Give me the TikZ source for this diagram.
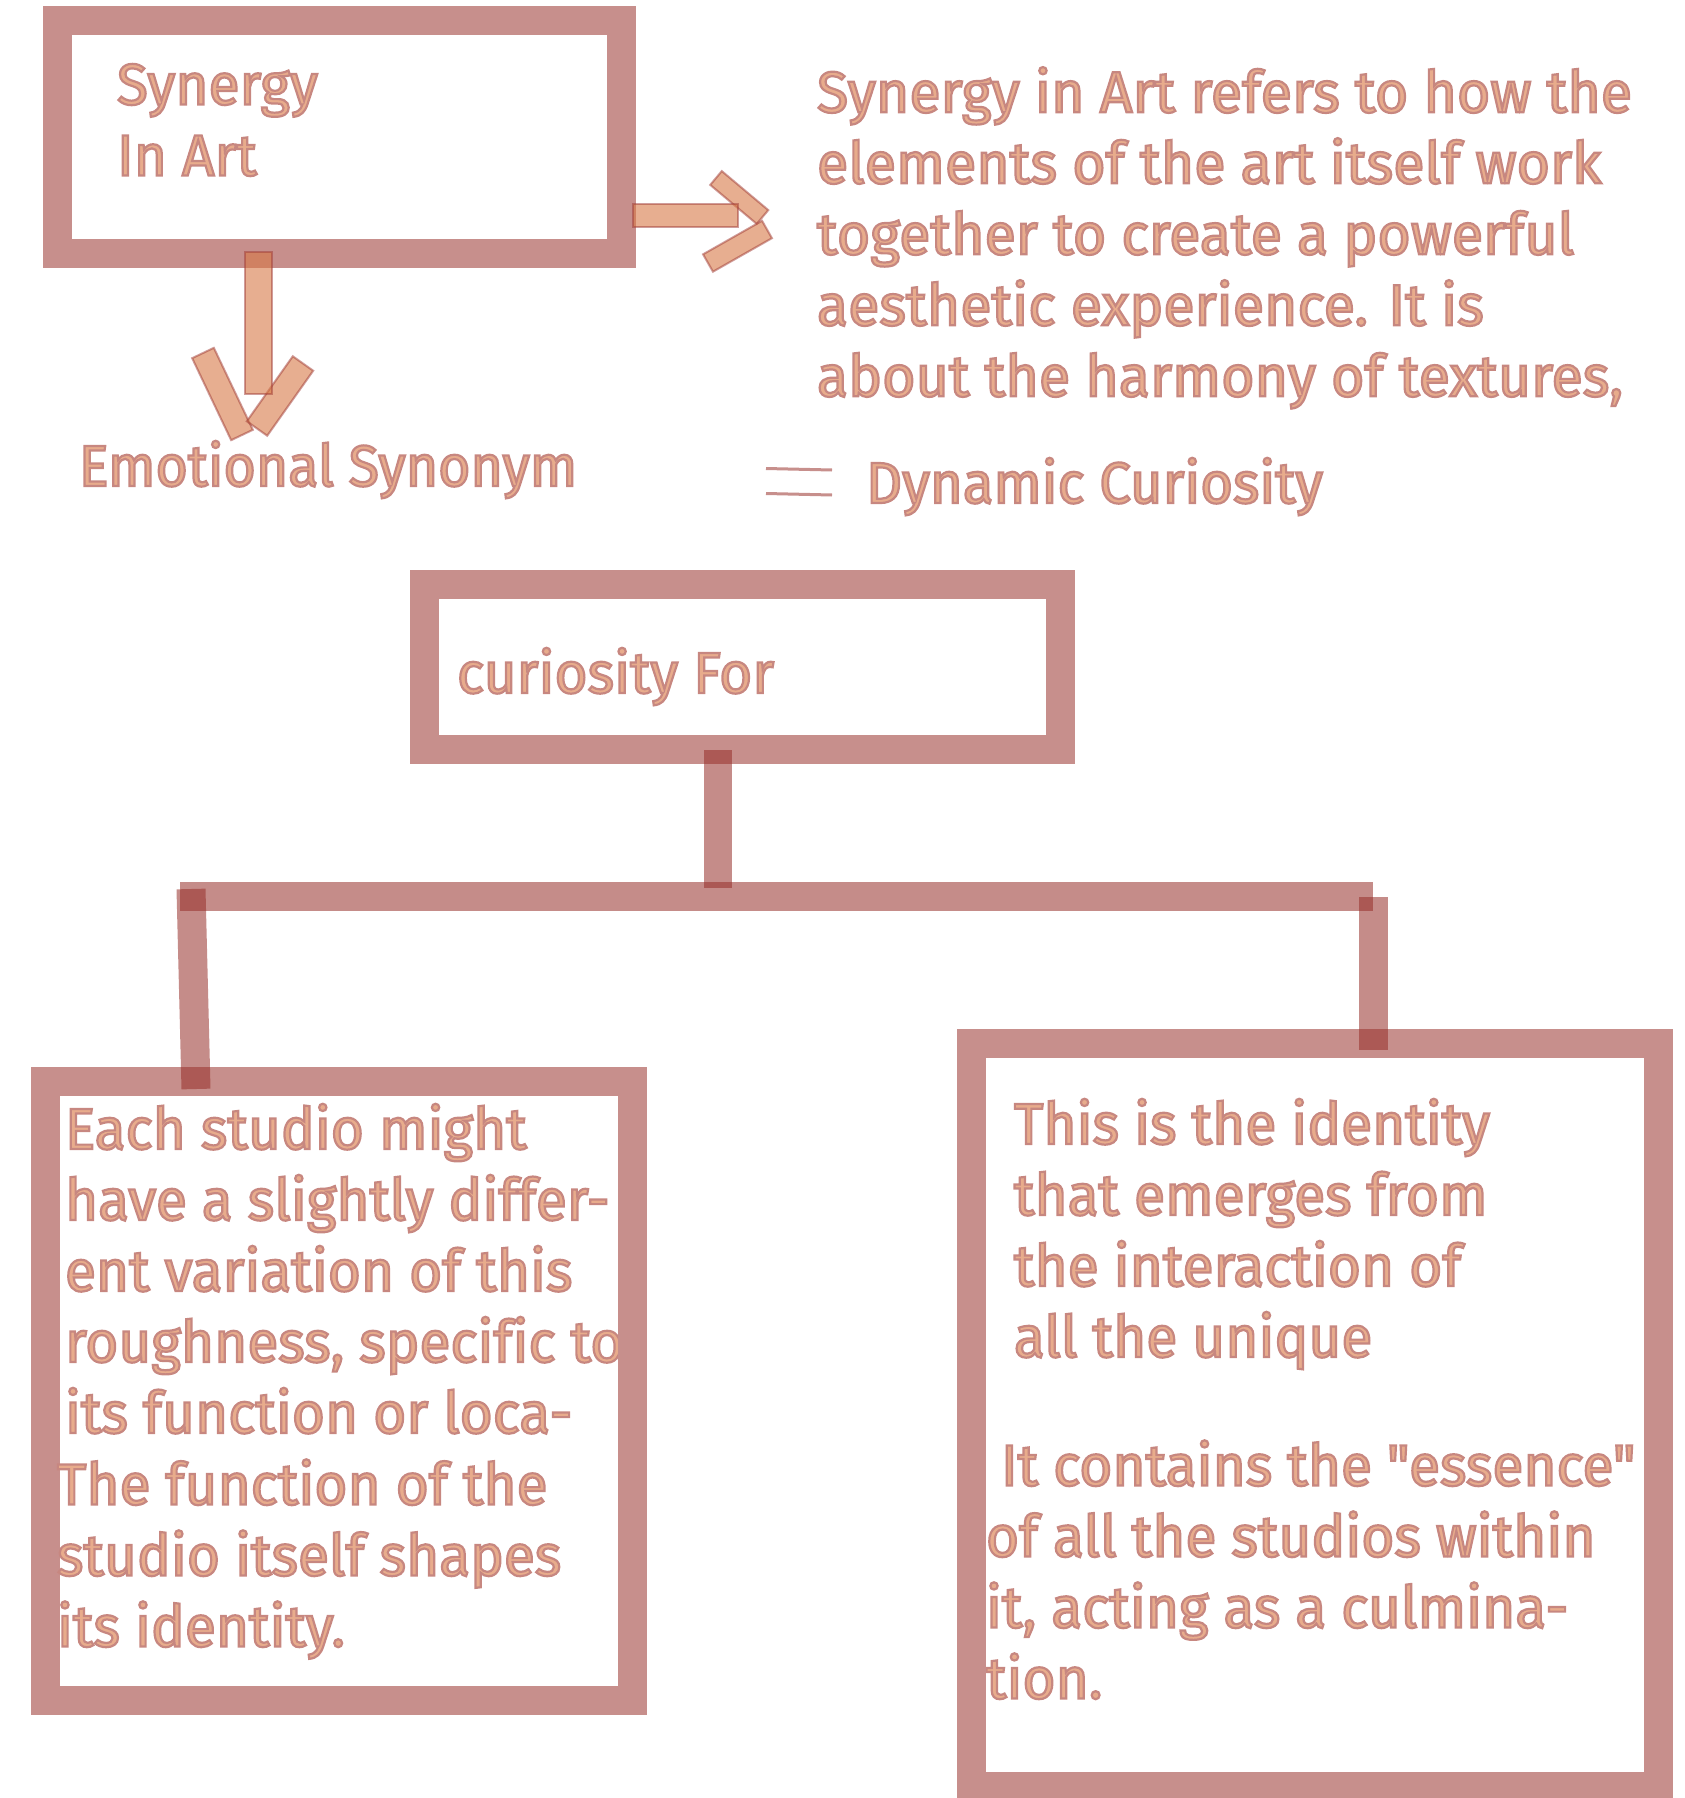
\documentclass[tikz,border=0pt]{standalone}
\usepackage{fontspec}
\setmainfont[FakeStretch=0.978,Ligatures={TeXOff,NoCommon}]{Fira Sans}
\newfontfamily\parafont[FakeStretch=0.987,Ligatures={TeXOff,NoCommon}]{Fira Sans}
\newfontfamily\emofont[FakeStretch=0.955,Ligatures={TeXOff,NoCommon}]{Fira Sans}
\newfontfamily\dynfont[FakeStretch=0.97,Ligatures={TeXOff,NoCommon}]{Fira Sans}
\usetikzlibrary{calc}
\definecolor{boxc}{RGB}{199,143,140}
\definecolor{linkc}{RGB}{150,45,40}
\definecolor{arrfill}{RGB}{215,120,70}
\definecolor{arrline}{RGB}{160,60,55}
\definecolor{txtfill}{RGB}{232,172,140}
\newcommand\outlon{\special{pdf:literal direct 0.78 0.53 0.50 RG 1.1 w 2 Tr}}
\newcommand\outloff{\special{pdf:literal direct 0 Tr}}
\newcommand\txtlines[1]{\vtop{\baselineskip=35.5pt\lineskiplimit=-1000pt\halign{##\hfil\cr#1\crcr}}}
\newcommand\arrbar[3]{\path[arr] ($(#1)!#3!90:(#2)$) -- ($(#2)!#3!-90:(#1)$) -- ($(#2)!#3!90:(#1)$) -- ($(#1)!#3!-90:(#2)$) -- cycle;}
\tikzset{
  box/.style={draw=boxc, line width=14.5pt, rectangle, inner sep=0pt, outer sep=0pt},
  txt/.style={anchor=base west, inner sep=0pt, outer sep=0pt, text=txtfill,
    font=\fontsize{29}{35.5}\selectfont},
  link/.style={draw=linkc, draw opacity=0.55, line width=14.5pt, line cap=butt},
  arr/.style={fill=arrfill, fill opacity=0.6, draw=arrline, draw opacity=0.5, line width=1pt, line join=miter},
  eqline/.style={draw=boxc, line width=1.5pt}
}
\begin{document}
\begin{tikzpicture}[x=0.5pt,y=-0.5pt]
\useasboundingbox (0,0) rectangle (1685,1798);
% texts under the boxes
\node[txt, font=\parafont\fontsize{29}{35.5}\selectfont] (para) at (817,112.3) {\outlon\txtlines{Synergy in Art refers to how the\cr elements of the art itself work\cr together to create a powerful\cr aesthetic experience. It is\cr about the harmony of textures,}\outloff};
\node[txt, font=\emofont\fontsize{29}{35.5}\selectfont] (emo) at (79,486) {\outlon Emotional Synonym\outloff};
\node[txt, font=\dynfont\fontsize{29}{35.5}\selectfont] (dyn) at (866,503) {\outlon Dynamic Curiosity\outloff};
\node[txt] (t3a) at (65,1149) {\outlon\txtlines{Each studio might\cr have a slightly differ-\cr ent variation of this\cr roughness, specific to\cr its function or loca-}\outloff};
\node[txt] (t4a) at (1014,1144) {\outlon\txtlines{This is the identity\cr that emerges from\cr the interaction of\cr all the unique}\outloff};
\node[txt] (t4b) at (986,1485.5) {\outlon\txtlines{\hskip7.5pt It contains the "essence"\cr of all the studios within\cr it, acting as a culmina-\cr tion.}\outloff};
% boxes
\node[box, minimum width=282pt, minimum height=116.25pt] (b1) at (339.5,137.25) {};
\node[box, minimum width=318.25pt, minimum height=82.5pt] (b2) at (742.25,667) {};
\node[box, minimum width=293.75pt, minimum height=309.75pt] (b3) at (338.75,1390.75) {};
\node[box, minimum width=343.5pt, minimum height=371.75pt] (b4) at (1315,1414.75) {};
% texts over the boxes
\node[txt] (t1) at (117,104.5) {\outlon\txtlines{Synergy\cr In Art}\outloff};
\node[txt] (t2) at (457,693) {\outlon curiosity For\outloff};
\node[txt] (t3b) at (57,1504.5) {\outlon\txtlines{The function of the\cr studio itself shapes\cr its identity.}\outloff};
% equals mark
\coordinate (e1a) at (766,468.5); \coordinate (e1b) at (832,470);
\coordinate (e2a) at (766,493.5); \coordinate (e2b) at (832,495);
\draw[eqline] (e1a) -- (e1b);
\draw[eqline] (e2a) -- (e2b);
% tree connectors
\coordinate (j0) at (718,750); \coordinate (j1) at (718,888);
\coordinate (hl) at (180,896.5); \coordinate (hr) at (1373,896.5);
\coordinate (l0) at (191,889); \coordinate (l1) at (196,1089);
\coordinate (r0) at (1373,897); \coordinate (r1) at (1373,1050);
\draw[link, line width=14pt] (j0) -- (j1);
\draw[link] (hl) -- (hr);
\draw[link] (l0) -- (l1);
\draw[link] (r0) -- (r1);
% right arrow
\coordinate (ra0) at (633,204); \coordinate (ra1) at (738,227);
\coordinate (ru0) at (716,178); \coordinate (ru1) at (762.5,217);
\coordinate (rl0) at (767,229.5); \coordinate (rl1) at (708,263);
\arrbar{ru0}{ru1}{4.5pt}
\arrbar{rl0}{rl1}{5pt}
\path[arr] (ra0) rectangle (ra1);
% down arrow
\coordinate (da0) at (245,252); \coordinate (da1) at (272,394);
\coordinate (dl0) at (203,353); \coordinate (dl1) at (242,435);
\coordinate (dr0) at (303,363.5); \coordinate (dr1) at (257,428.5);
\arrbar{dl0}{dl1}{6pt}
\arrbar{dr0}{dr1}{6.25pt}
\path[arr] (da0) rectangle (da1);
\end{tikzpicture}
\end{document}
